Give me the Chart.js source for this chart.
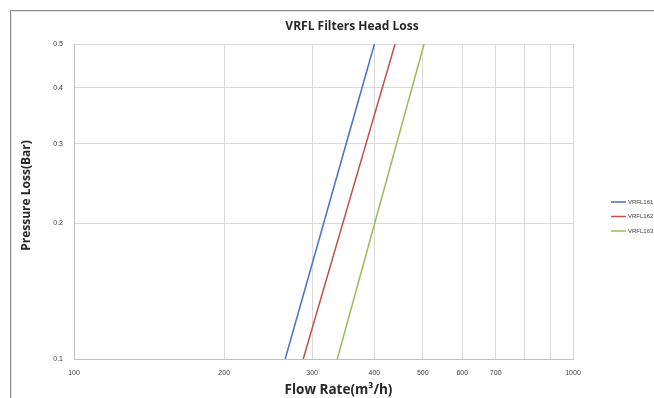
<!DOCTYPE html>
<html>
<head>
<meta charset="utf-8">
<script src="https://cdn.jsdelivr.net/npm/chart.js@4/dist/chart.umd.min.js"></script>
<style>
  html, body { margin: 0; padding: 0; background: #ffffff; overflow: hidden; }
  #wrap { width: 694px; height: 398px; }
</style>
</head>
<body>
<div id="wrap"><canvas id="c" width="694" height="398"></canvas></div>
<script>
// Head loss curves for the three VRFL filter models (log-log)
const seriesNames = ['VRFL161', 'VRFL162', 'VRFL163'];
const flowVRFL161 = [265, 400];
const lossVRFL161 = [0.1, 0.5];
const flowVRFL162 = [288, 440];
const lossVRFL162 = [0.1, 0.5];
const flowVRFL163 = [337, 503];
const lossVRFL163 = [0.1, 0.5];

const xTickValues = [100, 200, 300, 400, 500, 600, 700, 800, 900, 1000];
const xTickLabels = ['100', '200', '300', '400', '500', '600', '700', '', '', '1000'];
const yTickValues = [0.1, 0.2, 0.3, 0.4, 0.5];
const yTickLabels = ['0.1', '0.2', '0.3', '0.4', '0.5'];

const chartTitle = 'VRFL Filters Head Loss';
const xTitle = 'Flow Rate(m³/h)';
const yTitle = 'Pressure Loss(Bar)';

const colors = ['#4472C4', '#C0504D', '#9BBB59'];
const flows = [flowVRFL161, flowVRFL162, flowVRFL163];
const losses = [lossVRFL161, lossVRFL162, lossVRFL163];

const datasets = seriesNames.map((name, i) => ({
  label: name,
  data: flows[i].map((f, j) => ({ x: f, y: losses[i][j] })),
  borderColor: colors[i],
  backgroundColor: colors[i],
  borderWidth: 1.5,
  pointRadius: 0,
  showLine: true,
  fill: false
}));

// Outer chart frame, titles and a compact legend
const decorations = {
  id: 'decorations',
  beforeDraw(chart) {
    const ctx = chart.ctx;
    ctx.save();
    ctx.fillStyle = '#ffffff';
    ctx.fillRect(0, 0, chart.width, chart.height);
    ctx.strokeStyle = '#8c8c8c';
    ctx.lineWidth = 1;
    ctx.strokeRect(10.5, 10.5, chart.width, chart.height);
    ctx.strokeStyle = '#e6e6e6';
    ctx.strokeRect(11.5, 11.5, chart.width, chart.height);
    ctx.restore();
  },
  afterDraw(chart) {
    const ctx = chart.ctx;
    const area = chart.chartArea;
    ctx.save();
    ctx.fillStyle = '#262626';
    ctx.textAlign = 'center';
    ctx.textBaseline = 'middle';
    // chart title, centred over the whole chart frame
    ctx.font = 'bold 12px "Open Sans", sans-serif';
    ctx.fillText(chartTitle, (10 + chart.width) / 2, 27);
    // x-axis title
    ctx.font = 'bold 13.5px "Open Sans", sans-serif';
    ctx.fillText(xTitle, (area.left + area.right) / 2 + 15, 390);
    // y-axis title
    ctx.font = 'bold 12px "Open Sans", sans-serif';
    ctx.translate(27, (area.top + area.bottom) / 2 - 6);
    ctx.rotate(-Math.PI / 2);
    ctx.fillText(yTitle, 0, 0);
    ctx.setTransform(1, 0, 0, 1, 0, 0);
    // legend
    ctx.font = '6px "Liberation Sans", sans-serif';
    ctx.textAlign = 'left';
    chart.data.datasets.forEach((ds, i) => {
      const y = 202 + i * 14.5;
      ctx.strokeStyle = ds.borderColor;
      ctx.lineWidth = 1.5;
      ctx.beginPath();
      ctx.moveTo(611, y);
      ctx.lineTo(626, y);
      ctx.stroke();
      ctx.fillStyle = '#404040';
      ctx.fillText(ds.label, 628, y);
    });
    ctx.restore();
  }
};

new Chart(document.getElementById('c'), {
  type: 'scatter',
  data: { datasets },
  plugins: [decorations],
  options: {
    responsive: false,
    devicePixelRatio: 1,
    animation: false,
    layout: { padding: { left: 10, top: 44, right: 121, bottom: 0 } },
    plugins: {
      legend: { display: false },
      tooltip: { enabled: false },
      title: { display: false }
    },
    scales: {
      x: {
        type: 'logarithmic',
        min: 100,
        max: 1000,
        afterBuildTicks(scale) { scale.ticks = xTickValues.map(v => ({ value: v })); },
        afterFit(scale) { scale.height = 39; },
        grid: { color: '#d9d9d9', drawTicks: false },
        border: { color: '#bfbfbf' },
        ticks: {
          autoSkip: false,
          maxRotation: 0,
          padding: 10,
          color: '#404040',
          font: { family: '"Liberation Sans", sans-serif', size: 7 },
          callback: (v, i) => xTickLabels[i]
        },
        title: { display: false }
      },
      y: {
        type: 'logarithmic',
        min: 0.1,
        max: 0.5,
        afterBuildTicks(scale) { scale.ticks = yTickValues.map(v => ({ value: v })); },
        afterFit(scale) { scale.width = 64; },
        grid: { color: '#d9d9d9', drawTicks: false },
        border: { color: '#bfbfbf' },
        ticks: {
          autoSkip: false,
          padding: 11,
          color: '#404040',
          font: { family: '"Liberation Sans", sans-serif', size: 7 },
          callback: (v, i) => yTickLabels[i]
        },
        title: { display: false }
      }
    }
  }
});
</script>
</body>
</html>
